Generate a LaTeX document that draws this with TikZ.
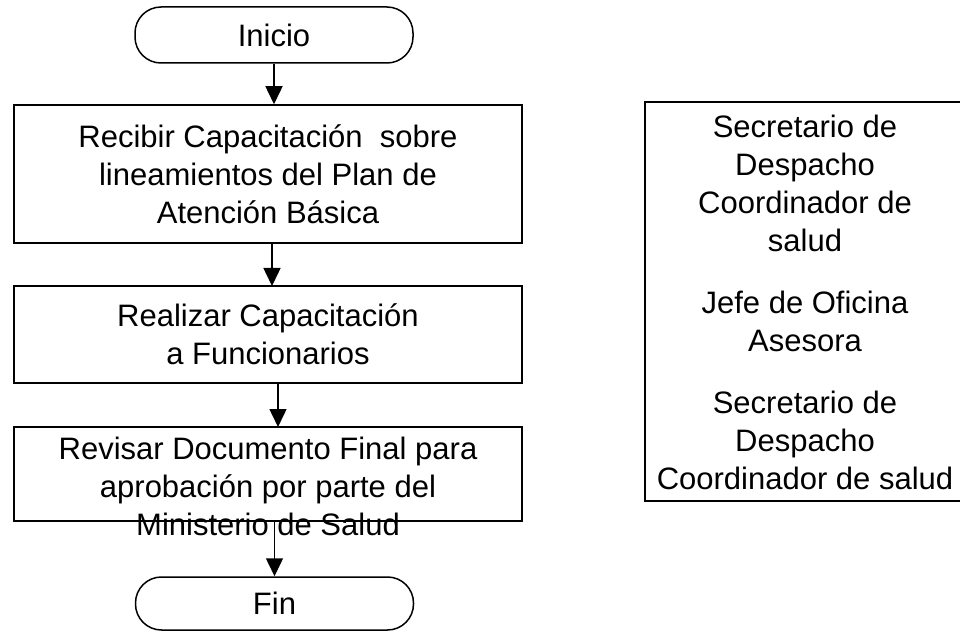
\documentclass[tikz,border=0pt]{standalone}
\usepackage{fontspec}
\setmainfont{Liberation Sans}
\usetikzlibrary{arrows.meta}

\begin{document}
\begin{tikzpicture}[
	x=0.5pt,
	y=-0.5pt,
	terminal/.style={
		rectangle,
		rounded corners=13pt,
		draw=black,
		line width=0.75pt,
		minimum width=139pt,
		inner sep=0pt,
		font=\fontsize{15.5}{19}\selectfont
	},
	process/.style={
		rectangle,
		draw=black,
		line width=0.75pt,
		minimum width=254pt,
		inner sep=0pt,
		align=center,
		font=\fontsize{15.5}{19}\selectfont
	},
	label text/.style={
		inner sep=0pt,
		align=center,
		font=\fontsize{15.5}{19}\selectfont
	},
	% Flow arrow style
	flow/.style={
		draw=black,
		line width=0.75pt,
		-{Triangle[width=8.5pt,length=9pt]}
	}
	]
	
	\useasboundingbox (0,0) rectangle (960,631);
	
	% ================= NODES =================
	\node[terminal, minimum height=28pt] (ini) at (274,35) {Inicio};
	
	\node[process, minimum height=69pt] (recibir) at (268,174)
		{Recibir Capacitación~~sobre\\lineamientos del Plan de\\Atención Básica};
	
	\node[process, minimum height=48.5pt] (realizar) at (268,334.5)
		{Realizar Capacitación\\a Funcionarios};
	
	\node[process, minimum height=47pt] (revisar) at (268,474) {};
	\node[label text] (revtxt) at (268,486)
		{Revisar Documento Final para\\aprobación por parte del\\Ministerio de Salud};
	
	\node[terminal, minimum height=26.5pt] (fin) at (274.5,603.5) {Fin};
	
	% frame runs past the right edge of the page
	\node[process, minimum width=177.5pt, minimum height=199.5pt] (resp) at (822.5,301.5) {};
	\node[label text] (resptxt) at (805,302)
		{Secretario de\\Despacho\\Coordinador de\\salud\\[12pt]Jefe de Oficina\\Asesora\\[12pt]Secretario de\\Despacho\\Coordinador de salud};
	
	% ================= EDGES =================
	\draw[flow] (ini.south) -- (ini.south |- recibir.north);
	\draw[flow] (272,243) -- (272,286);
	\draw[flow] (278,383) -- (278,427);
	\draw[flow] (revisar.south -| fin.north) -- (fin.north);
	
\end{tikzpicture}
\end{document}
